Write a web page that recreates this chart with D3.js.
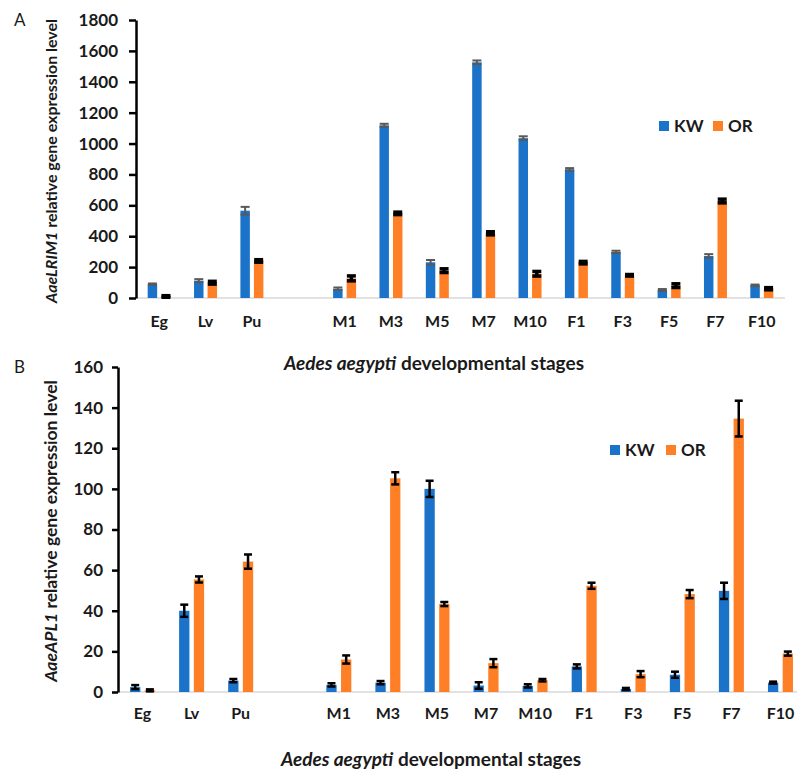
<!DOCTYPE html>
<html>
<head>
<meta charset="utf-8">
<script src="https://cdn.jsdelivr.net/npm/d3@7"></script>
<style>
  body { margin: 0; background: white; }
  svg { font-family: Lato, "Open Sans", sans-serif; }
</style>
</head>
<body>
<div class="svg-wrap"></div>
<script>
const width = 797;
const height = 769;

// stages ("" is the empty gap slot between Pu and M1)
const stages = ["Eg", "Lv", "Pu", "", "M1", "M3", "M5", "M7", "M10", "F1", "F3", "F5", "F7", "F10"];
const series = ["KW", "OR"];
const colors = { KW: "#1a73c9", OR: "#ff7f27" };

// panel A: AaeLRIM1
const lrimKW = [90, 112, 565, null, 60, 1118, 231, 1526, 1035, 833, 298, 52, 272, 82];
const lrimOR = [10, 99, 240, null, 127, 548, 177, 419, 157, 229, 147, 80, 628, 60];
const lrimKWerr = [4, 10, 25, null, 8, 10, 15, 12, 12, 8, 8, 6, 12, 5];
const lrimORerr = [5, 9, 8, null, 16, 8, 12, 10, 15, 8, 5, 12, 12, 7];
const lrimTicks = [0, 200, 400, 600, 800, 1000, 1200, 1400, 1600, 1800];

// panel B: AaeAPL1
const aplKW = [2.4, 40, 5.6, null, 3.5, 4.6, 100, 3.2, 3, 12.6, 1.5, 8.5, 49.8, 4.6];
const aplOR = [0.8, 55.4, 64.2, null, 16, 105.2, 43.3, 14.2, 5.8, 52.3, 8.8, 48.2, 134.6, 18.9];
const aplKWerr = [1, 3, 0.8, null, 0.8, 0.8, 4, 1.6, 0.8, 1, 0.5, 1.5, 4, 0.5];
const aplORerr = [0.5, 1.5, 3.5, null, 2, 3, 1, 2, 0.6, 1.5, 1.5, 2, 8.8, 1];
const aplTicks = [0, 20, 40, 60, 80, 100, 120, 140, 160];

let svg = d3.select(".svg-wrap")
  .append("svg")
  .attr("width", width)
  .attr("height", height);

function drawPanel(opt) {
  let g = svg.append("g");

  let scaleX = d3.scaleBand().domain(stages).range([opt.left, opt.right]);
  let scaleY = d3.scaleLinear().domain([0, opt.max]).range([opt.bottom, opt.top]);
  let inner = d3.scaleBand().domain(series)
    .range([-opt.group / 2, opt.group / 2]).paddingInner(opt.gap);

  // light baseline
  g.append("line")
    .attr("x1", opt.left).attr("x2", opt.right)
    .attr("y1", scaleY(0)).attr("y2", scaleY(0))
    .attr("stroke", "#d9d9d9").attr("stroke-width", 1.5);

  // bars + error bars
  series.forEach(function (s) {
    let vals = opt.values[s];
    let errs = opt.errors[s];
    let rows = stages.map((st, i) => ({ st: st, v: vals[i], e: errs[i] }))
      .filter(d => d.v != null);

    g.selectAll(".bar-" + s)
      .data(rows)
      .enter()
      .append("rect")
      .attr("class", "bar-" + s)
      .attr("x", d => scaleX(d.st) + scaleX.bandwidth() / 2 + inner(s))
      .attr("y", d => scaleY(d.v))
      .attr("width", inner.bandwidth())
      .attr("height", d => scaleY(0) - scaleY(d.v))
      .style("fill", colors[s]);

    let cx = d => scaleX(d.st) + scaleX.bandwidth() / 2 + inner(s) + inner.bandwidth() / 2;
    let eb = g.selectAll(".err-" + s)
      .data(rows)
      .enter()
      .append("g")
      .attr("class", "err-" + s)
      .attr("stroke", opt.errColor[s])
      .attr("stroke-width", opt.errWidth[s]);
    eb.append("line")
      .attr("x1", cx).attr("x2", cx)
      .attr("y1", d => scaleY(d.v + d.e)).attr("y2", d => scaleY(Math.max(0, d.v - d.e)));
    [1, -1].forEach(function (sign) {
      eb.append("line")
        .attr("x1", d => cx(d) - opt.cap / 2).attr("x2", d => cx(d) + opt.cap / 2)
        .attr("y1", d => scaleY(Math.max(0, d.v + sign * d.e)))
        .attr("y2", d => scaleY(Math.max(0, d.v + sign * d.e)));
    });
  });

  // y axis
  let yAxis = d3.axisLeft(scaleY)
    .tickValues(opt.ticks)
    .tickFormat(d3.format("d"))
    .tickSize(opt.tickSize)
    .tickSizeOuter(0)
    .tickPadding(opt.tickPad);
  let ya = g.append("g")
    .attr("transform", "translate(" + opt.left + ",0)")
    .call(yAxis);
  ya.select(".domain").attr("stroke", "black").attr("stroke-width", 2.5);
  ya.selectAll(".tick line").attr("stroke", "black").attr("stroke-width", 2.5);
  ya.selectAll(".tick text")
    .style("font-family", "Lato")
    .style("font-size", "17px")
    .style("font-weight", "bold")
    .attr("fill", "#1a1a1a");

  // category labels
  g.selectAll(".cat")
    .data(stages.filter(s => s !== ""))
    .enter()
    .append("text")
    .attr("class", "cat")
    .attr("x", d => scaleX(d) + scaleX.bandwidth() / 2)
    .attr("y", opt.catY)
    .attr("text-anchor", "middle")
    .style("font-size", "16px")
    .style("font-weight", "bold")
    .attr("fill", "#1a1a1a")
    .text(d => d);

  // y title
  let yt = g.append("text")
    .attr("transform", "translate(" + opt.yTitleX + "," + opt.yTitleY + ") rotate(-90)")
    .attr("text-anchor", "middle")
    .style("font-size", opt.yTitleSize + "px")
    .style("font-weight", "bold")
    .attr("fill", "#1a1a1a");
  yt.append("tspan").style("font-style", "italic").text(opt.gene);
  yt.append("tspan").text(" relative gene expression level");

  // x title
  let xt = g.append("text")
    .attr("x", opt.xTitleX)
    .attr("y", opt.xTitleY)
    .attr("text-anchor", "middle")
    .style("font-size", "19px")
    .style("font-weight", "bold")
    .attr("fill", "#1a1a1a");
  xt.append("tspan").style("font-style", "italic").text("Aedes aegypti");
  xt.append("tspan").text(" developmental stages");

  // legend
  let lg = g.append("g").attr("transform", "translate(" + opt.legX + "," + opt.legY + ")");
  series.forEach(function (s, i) {
    lg.append("rect")
      .attr("x", i * opt.legStep).attr("y", -5)
      .attr("width", 10).attr("height", 10)
      .style("fill", colors[s]);
    lg.append("text")
      .attr("x", i * opt.legStep + 15).attr("y", 6)
      .style("font-size", "17px")
      .style("font-weight", "bold")
      .attr("fill", "#1a1a1a")
      .text(s);
  });

  // panel letter
  g.append("text")
    .attr("x", 14).attr("y", opt.letterY)
    .style("font-size", "17px")
    .attr("fill", "#1a1a1a")
    .text(opt.letter);
}

drawPanel({
  letter: "A", letterY: 26, gene: "AaeLRIM1",
  left: 136, right: 785, top: 20, bottom: 298, max: 1800,
  ticks: lrimTicks, tickSize: 7, tickPad: 11,
  group: 23, gap: 0.3, cap: 9,
  values: { KW: lrimKW, OR: lrimOR },
  errors: { KW: lrimKWerr, OR: lrimORerr },
  errColor: { KW: "#595959", OR: "black" },
  errWidth: { KW: 2, OR: 3.5 },
  catY: 327, yTitleX: 57, yTitleY: 161, yTitleSize: 16,
  xTitleX: 434, xTitleY: 370,
  legX: 659, legY: 126, legStep: 54
});

drawPanel({
  letter: "B", letterY: 373, gene: "AaeAPL1",
  left: 118, right: 805, top: 367, bottom: 692, max: 160,
  ticks: aplTicks, tickSize: 6, tickPad: 9,
  group: 25, gap: 0.3, cap: 8,
  values: { KW: aplKW, OR: aplOR },
  errors: { KW: aplKWerr, OR: aplORerr },
  errColor: { KW: "black", OR: "black" },
  errWidth: { KW: 2.5, OR: 2.5 },
  catY: 719, yTitleX: 57, yTitleY: 531, yTitleSize: 17.5,
  xTitleX: 431, xTitleY: 766,
  legX: 610, legY: 450, legStep: 56
});
</script>
</body>
</html>
